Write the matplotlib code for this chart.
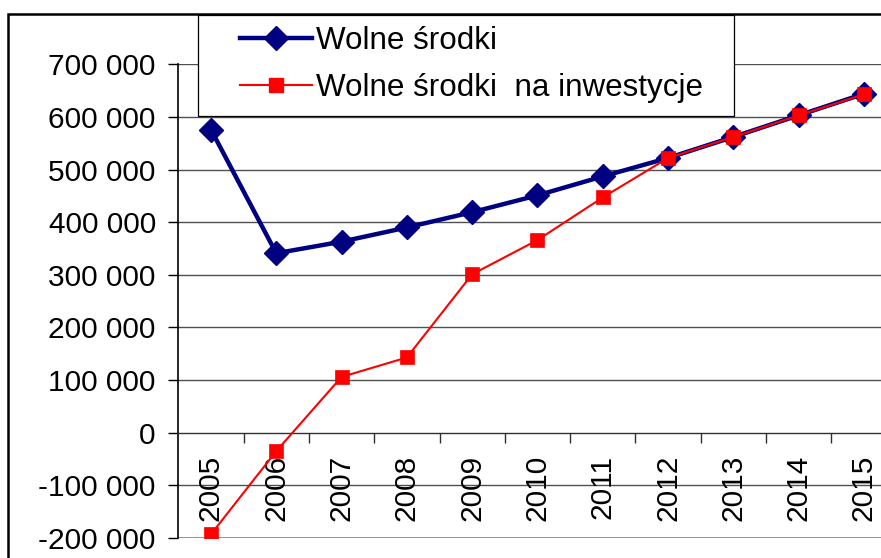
import matplotlib
matplotlib.use("Agg")
import matplotlib.pyplot as plt
import matplotlib.ticker as mticker
from matplotlib.patches import Rectangle
from matplotlib.lines import Line2D

plt.rcParams["font.family"] = ["Liberation Sans", "DejaVu Sans"]

YEARS = ["2005", "2006", "2007", "2008", "2009", "2010",
         "2011", "2012", "2013", "2014", "2015"]
WOLNE = [576000, 341000, 363000, 390000, 419000, 451000,
         487000, 522000, 562000, 603000, 644000]
WOLNE_INW = [-193000, -35000, 106000, 143000, 301000, 366000,
             447000, 522000, 562000, 603000, 643000]
LABELS = ["Wolne środki", "Wolne środki  na inwestycje"]

W, H = 881, 558
FS = 21.5
LEG_FS = 22.6

fig = plt.figure(figsize=(W / 100, H / 100), dpi=100)
# plot area in pixels: x 178.3 -> 896.6, y 64.3 (700k) -> 538 (-200k)
ax = fig.add_axes([178.3 / W, 1 - 538 / H, (896.6 - 178.3) / W, (538 - 64.3) / H])

x = list(range(len(YEARS)))
ax.plot(x, WOLNE, color="#000080", lw=3.2, marker="D", markersize=12,
        markerfacecolor="#000080", markeredgecolor="#000080", mew=1, zorder=4)
ax.plot(x, WOLNE_INW, color="#ff0000", lw=1.5, marker="s", markersize=9.5,
        markerfacecolor="#ff0000", markeredgecolor="#ff0000", mew=0.5, zorder=5)

ax.set_xlim(-0.5, len(YEARS) - 0.5)
ax.set_ylim(-200000, 700000)

# y axis
ax.yaxis.set_major_locator(mticker.MultipleLocator(100000))
ax.yaxis.set_major_formatter(mticker.FuncFormatter(
    lambda v, _: f"{int(v):,}".replace(",", " ")))
ax.tick_params(axis="y", which="major", length=7.2, width=1, pad=9,
               labelsize=FS, direction="out", color="#000000")
for v in range(-100000, 700001, 100000):
    if v != 0:
        ax.axhline(v, color="#505050", lw=1, zorder=1)
ax.axhline(-200000, color="#8a8a8a", lw=2, zorder=1)

# x axis sits on zero line
for s in ["top", "right"]:
    ax.spines[s].set_visible(False)
ax.spines["bottom"].set_position(("data", 0))
ax.spines["bottom"].set_color("#303030")
ax.spines["bottom"].set_linewidth(1)
ax.spines["left"].set_linewidth(1.2)
ax.set_xticks(x)
ax.set_xticklabels(YEARS, rotation=90)
ax.set_xticks([i + 0.5 for i in x[:-1]], minor=True)
ax.tick_params(axis="x", which="major", length=0, pad=16.0, labelsize=FS)
ax.tick_params(axis="x", which="minor", length=7.2, width=1, direction="out",
               color="#303030")

# outer chart border
fig.add_artist(Rectangle((8 / W, -0.2), 1.5, 1.2 - 14 / H,
                         transform=fig.transFigure, fill=False,
                         edgecolor="black", lw=1.8, zorder=1))

# legend box
fig.add_artist(Rectangle((198 / W, 1 - 116 / H), (734 - 198) / W, 101 / H,
                         transform=fig.transFigure, facecolor="white",
                         edgecolor="black", lw=0.9, zorder=2))
handles = [
    Line2D([], [], color="#000080", lw=3.2, marker="D", markersize=12,
           markerfacecolor="#000080", markeredgecolor="#000080"),
    Line2D([], [], color="#ff0000", lw=1.5, marker="s", markersize=9.5,
           markerfacecolor="#ff0000", markeredgecolor="#ff0000"),
]
leg = fig.legend(handles, LABELS, loc="upper left",
                 bbox_to_anchor=(240 / W, 1 - 26 / H), frameon=False,
                 fontsize=LEG_FS, borderpad=0, borderaxespad=0,
                 handlelength=2.3, handletextpad=0.12, labelspacing=0.55)
leg.set_zorder(6)

fig.savefig("out.png", dpi=100)
